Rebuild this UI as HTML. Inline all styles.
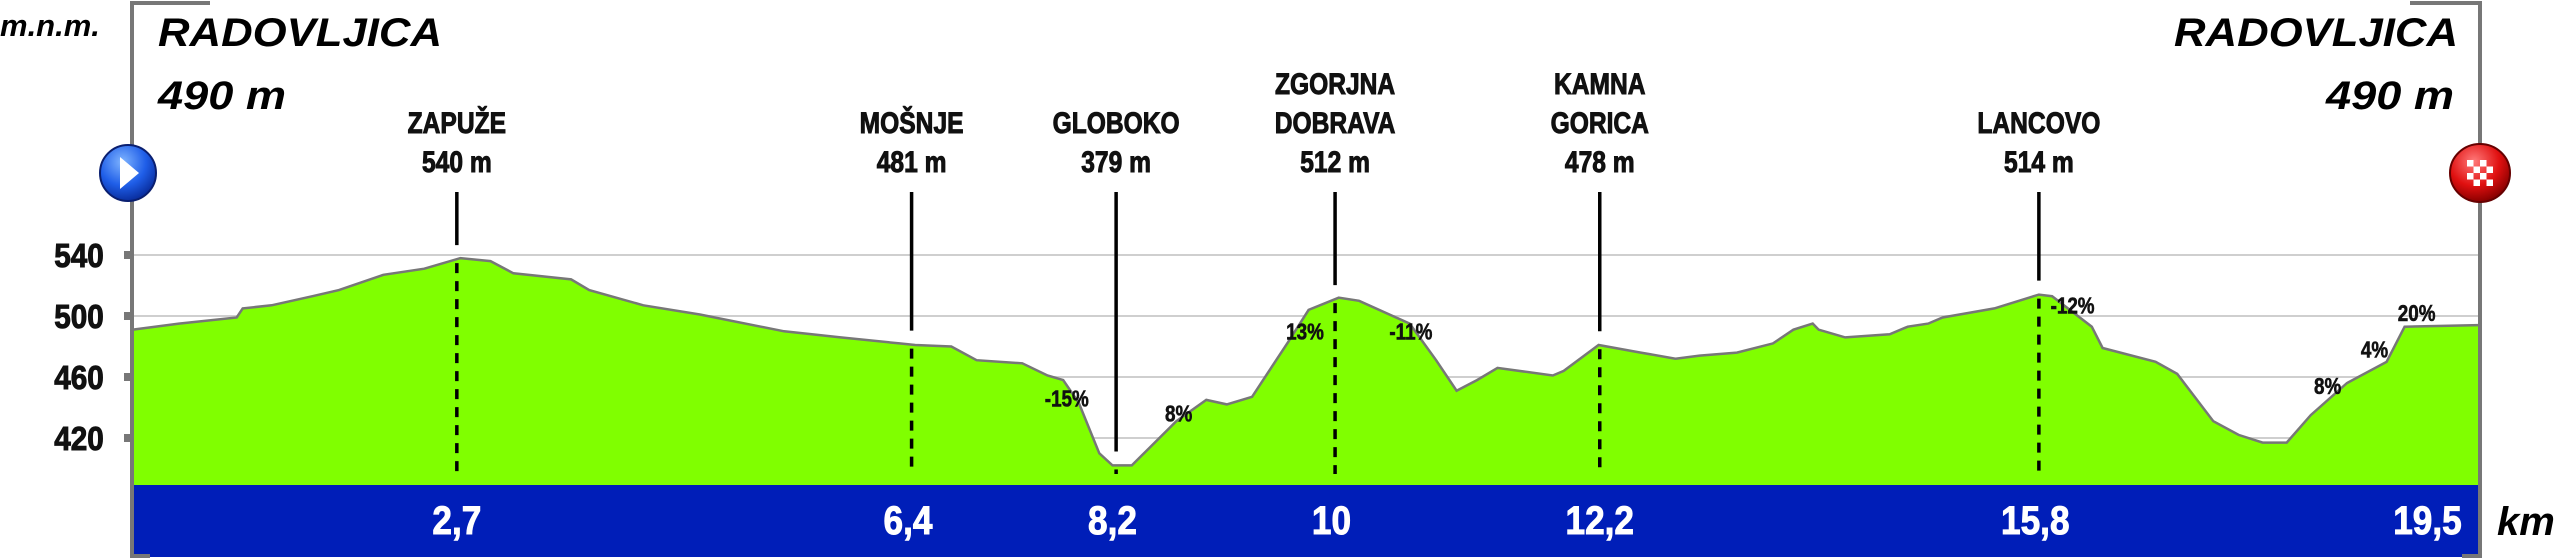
<!DOCTYPE html>
<html><head><meta charset="utf-8">
<style>
html,body{margin:0;padding:0;background:#fff;}
svg{display:block;}
.cond{font-family:"Liberation Sans",sans-serif;font-weight:bold;}
.hd{font-family:"Liberation Sans",sans-serif;font-weight:bold;font-style:italic;}
</style></head>
<body>
<svg id="chart" width="2560" height="559" viewBox="0 0 2560 559" xmlns="http://www.w3.org/2000/svg">
  <defs>
    <radialGradient id="gBlue" cx="40%" cy="30%" r="70%"><stop offset="0" stop-color="#7fb4ff"/><stop offset="0.6" stop-color="#1f5ee8"/><stop offset="1" stop-color="#0a2fa0"/></radialGradient>
    <radialGradient id="gRed" cx="40%" cy="30%" r="70%"><stop offset="0" stop-color="#ff7a7a"/><stop offset="0.6" stop-color="#e01010"/><stop offset="1" stop-color="#8a0000"/></radialGradient>
  </defs>
  <g id="grid"></g>
  <g id="area"></g>
  <rect x="132" y="485" width="2347" height="72" fill="#001eb8"/>
  <g id="axes">
    <polyline points="210,3 132,3 132,556 150,556" fill="none" stroke="#777" stroke-width="4"/>
    <polyline points="2410,3 2480,3 2480,556 2462,556" fill="none" stroke="#777" stroke-width="4"/>
  </g>
  <g id="yticks"></g>
  <g id="markers"></g>
  <g id="grades"></g>
  <g id="kms"></g>
  <text class="hd" x="0" y="36" font-size="31">m.n.m.</text>
  <text class="hd" x="158" y="46" font-size="40" textLength="284" lengthAdjust="spacingAndGlyphs">RADOVLJICA</text>
  <text class="hd" x="158" y="109" font-size="40" textLength="128" lengthAdjust="spacingAndGlyphs">490 m</text>
  <text class="hd" x="2458" y="46" font-size="40" text-anchor="end" textLength="284" lengthAdjust="spacingAndGlyphs">RADOVLJICA</text>
  <text class="hd" x="2454" y="109" font-size="40" text-anchor="end" textLength="128" lengthAdjust="spacingAndGlyphs">490 m</text>
  <text class="hd" x="2497" y="535" font-size="40">km</text>
  <g>
    <ellipse cx="128" cy="173" rx="28" ry="28" fill="url(#gBlue)" stroke="#0a1f70" stroke-width="2"/>
    <polygon points="120,157 120,189 139,173" fill="#fff"/>
  </g>
  <g id="finish">
    <ellipse cx="2480" cy="173" rx="30" ry="29" fill="url(#gRed)" stroke="#600" stroke-width="2"/>
  </g>
</svg>
<script>
const kmPts = [0,0.39,0.87,0.92,1.16,1.50,1.72,2.09,2.43,2.73,2.98,3.17,3.65,3.80,4.25,4.72,5.42,5.89,6.38,6.51,6.81,7.02,7.40,7.61,7.74,7.87,8.04,8.15,8.31,8.68,8.93,9.10,9.31,9.61,9.78,10.03,10.20,10.62,10.84,11.01,11.18,11.35,11.81,11.90,12.19,12.54,12.83,13.03,13.34,13.64,13.81,13.97,14.02,14.24,14.61,14.76,14.93,15.05,15.48,15.85,15.96,16.29,16.38,16.82,17.00,17.30,17.51,17.71,17.91,18.11,18.41,18.74,18.89,19.5];
const elevPts = [491,495,499,505,507,513,517,527,531,538,536,528,524,517,507,501,490,486,482,481,480,471,469,461,458,443,410,402,402,431,445,442,447,483,504,512,510,495,471,451,458,466,461,464,481,476,472,474,476,482,491,495,491,486,488,493,495,499,505,514,513,493,479,470,462,431,422,417,417,435,456,470,493,494];
const yTickVals = [540,500,460,420];
const kmLabels = ["2,7","6,4","8,2","10","12,2","15,8","19,5"];
const kmLabelPos = [2.7,6.45,8.15,9.97,12.2,15.82,19.08];
const wpNames = [["ZAPUŽE"],["MOŠNJE"],["GLOBOKO"],["ZGORJNA","DOBRAVA"],["KAMNA","GORICA"],["LANCOVO"]];
const wpElev = ["540 m","481 m","379 m","512 m","478 m","514 m"];
const wpKm = [2.7,6.48,8.18,10.0,12.2,15.85];
const gradeText = ["-15%","8%","13%","-11%","-12%","8%","4%","20%"];
const gradeKm = [7.77,8.70,9.75,10.63,16.13,18.25,18.64,18.99];
const gradeElev = [446,436,490,490,507,454,478,502];

const NS="http://www.w3.org/2000/svg";
const X0=132, X1=2478, KMAX=19.5;
const x = k => X0 + k*(X1-X0)/KMAX;
const y = e => 255 + (540-e)*1.525;
function mk(tag, attrs, parent){const el=document.createElementNS(NS,tag);for(const k in attrs)el.setAttribute(k,attrs[k]);parent.appendChild(el);return el;}
function ctext(parent, str, tx, ty, size, sx, fill, sw){
  const t=mk('text',{x:0,y:0,'font-size':size,'text-anchor':'middle',class:'cond',fill:fill,stroke:fill,'stroke-width':sw,transform:'translate('+tx+','+ty+') scale('+sx+',1)'},parent);
  t.textContent=str;
  return t;
}

const grid=document.getElementById('grid');
const yt=document.getElementById('yticks');
yTickVals.forEach(v=>{
  const l=mk('line',{x1:132,x2:2480,y1:y(v),y2:y(v),stroke:'#cfcfcf','stroke-width':2},grid);
  
  
  const t=mk('rect',{x:124,y:y(v)-4,width:8,height:8,fill:'#777'},yt);
  
  
  const tx=ctext(yt, String(v), 79, y(v)+12, 33, 0.9, '#111', 1);
  
  
});

const area=document.getElementById('area');
let d='M'+x(kmPts[0])+','+485;
kmPts.forEach((k,i)=>{d+=' L'+x(k).toFixed(1)+','+y(elevPts[i]).toFixed(1);});
d+=' L'+x(kmPts[kmPts.length-1])+',485 Z';
const p=mk('path',{d:d,fill:'#80ff00',stroke:'none'},area);


let d2='';
kmPts.forEach((k,i)=>{d2+=(i?' L':'M')+x(k).toFixed(1)+','+y(elevPts[i]).toFixed(1);});
const pl=mk('path',{d:d2,fill:'none',stroke:'#777','stroke-width':2.5},area);



function elevAt(k){for(let i=1;i<kmPts.length;i++){if(k<=kmPts[i]){const t=(k-kmPts[i-1])/(kmPts[i]-kmPts[i-1]);return elevPts[i-1]+t*(elevPts[i]-elevPts[i-1]);}}return elevPts[elevPts.length-1];}

const mg=document.getElementById('markers');
wpKm.forEach((k,i)=>{
  const xx=x(k), ey=y(elevAt(k));
  const s=mk('line',{x1:xx,x2:xx,y1:192,y2:Math.max(200,ey-14),stroke:'#000','stroke-width':3.5},mg);
  
  
  const ds=mk('line',{x1:xx,x2:xx,y1:ey+4,y2:474,stroke:'#000','stroke-width':3.5,'stroke-dasharray':'10,8'},mg);
  
  
  const lines=wpNames[i].concat([wpElev[i]]);
  const baseLast=172, step=39;
  lines.forEach((ln,j)=>{
    const t=ctext(mg, ln, xx, baseLast-(lines.length-1-j)*step, 30, 0.82, '#111', 1);
    
    
  });
});

const gg=document.getElementById('grades');
gradeText.forEach((g,i)=>{
  const t=ctext(gg, g, x(gradeKm[i]), y(gradeElev[i])+8, 23, 0.82, '#111', 0.6);
  
  
});

const kg=document.getElementById('kms');
kmLabels.forEach((lb,i)=>{
  const t=ctext(kg, lb, x(kmLabelPos[i]), 534, 40, 0.88, '#fff', 1);
  
  
});

const fin=document.getElementById('finish');
for(let r=0;r<4;r++)for(let c=0;c<4;c++){
  if((r+c)%2===0){
    const q=mk('rect',{x:2467+c*6.5,y:160+r*6.5,width:6.5,height:6.5,fill:'#fff'},fin);
    
    
  }
}
</script>
</body></html>
